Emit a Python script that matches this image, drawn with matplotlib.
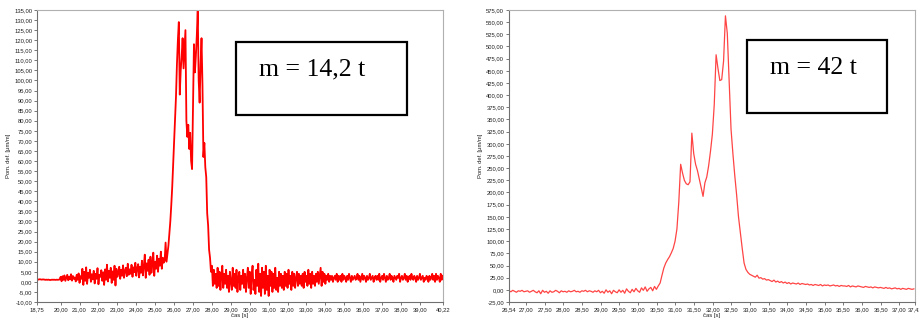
import numpy as np
import matplotlib
matplotlib.use("Agg")
import matplotlib.pyplot as plt
from matplotlib.patches import Rectangle

plt.rcParams['font.family'] = ['Liberation Sans', 'DejaVu Sans']

# ---------------- Left chart data (m = 14,2 t) ----------------
left_t_start = 18.75
left_t_step = 0.05
left_values = [
    1.2, 1.1, 1.2, 1.3, 1.2, 1.1, 1.2, 1.2, 1.1, 1.0, 1.1, 1.0, 1.1, 1.0, 0.9, 1.0, 1.1, 1.0, 1.1, 1.0,
    1.0, 1.1, 1.0, 1.1, 1.2, 2.5, 0.3, 2.8, 1.0, 3.2, 0.5, 2.0, 3.5, 0.8, 2.6, 1.2, 3.8, 0.6, 2.9, 1.5,
    2.2, 0.2, 3.5, 1.0, 4.2, -0.5, 2.8, 1.5, 6.5, -1.5, 5.0, 0.5, 7.2, -1.0, 4.5, 2.0, 6.0, 0.0, 3.8, 1.2,
    5.5, -0.8, 4.0, 1.5, 6.8, -1.2, 3.5, 2.5, 5.8, 0.5, 4.8, -1.5, 6.2, 1.0, 8.5, 0.2, 5.5, 2.0, 7.0, -0.5,
    5.2, 1.0, 8.0, -1.8, 6.5, 2.5, 4.2, 7.5, 1.5, 6.0, 3.0, 8.2, 2.0, 5.5, 7.0, 2.8, 9.0, 3.5, 6.2, 4.0,
    8.5, 2.5, 7.2, 4.8, 9.5, 3.0, 6.8, 8.8, 2.2, 7.5, 4.5, 10.5, 3.2, 8.0, 13.5, 2.0, 9.2, 5.5, 11.0, 3.5,
    12.5, 4.5, 8.5, 14.5, 3.0, 10.0, 6.5, 13.0, 5.0, 11.5, 8.0, 15.0, 6.5, 12.0, 9.5, 10.5, 19.5, 10.0, 14.0, 18.0,
    24, 30, 38, 47, 58, 68, 80, 92, 108, 120, 129, 93, 105, 112, 121, 106, 116, 125, 80, 72,
    78, 66, 74, 60, 56, 88, 118, 104, 112, 122, 135, 100, 89, 108, 121, 98, 62, 69, 57, 52,
    34, 28, 16, 12, 5, 8, -2, 6, -1, 4, -3, 7, -2, 5, -4, 3, 8, -3, 4, -1,
    6, -3, 3, -5, 5, 0, -4, 7, -2, 4, -3, 6, -5, 2, 5, -4, 3, -1, 6, -3,
    4, -5, 2, 7, -3, 5, -6, 3, 8, -4, 1, -6, 6, -2, 9, -5, 4, -7, 7, -3,
    5, -6, 8, -4, 3, -7, 6, -2, 5, -5, 4, -3, 7, -4, 2, -5, 5, -2, 4, -3,
    3, -4, 5, -2, 4, -3, 6, -1, 3, -4, 5, -2, 4, -3, 2, 5, -2, 4, -1, 3,
    -2, 4, -3, 5, 0, 3, -2, 6, -1, 4, -3, 5, -1, 3, -2, 4, 0, 5, -1, 3,
    7, -2, 5, 0, 4, -1, 3, 1, 4, 0, 3, 1, 3, 0, 2, 3, 1, 4, 0, 3,
    1, 3, 0, 4, 1, 3, 2, 0, 3, 1, 4, 2, 0, 3, 1, 2, 3, 1, 2, 4,
    1, 3, 0, 2, 4, 1, 3, 2, 0, 3, 1, 2, 4, 1, 2, 3, 0, 2, 3, 1,
    3, 1, 4, 0, 2, 3, 1, 4, 2, 0, 3, 1, 2, 4, 1, 3, 2, 0, 3, 2,
    1, 3, 2, 4, 0, 2, 3, 1, 2, 4, 1, 3, 0, 2, 3, 1, 4, 2, 1, 3,
    2, 0, 3, 1, 2, 4, 1, 2, 3, 0, 2, 1, 3, 2, 0, 3, 1, 2, 4, 1,
    3, 0, 4, 1, 3, 2, 0, 4, 1, 3,
]
left_xlim = (18.75, 40.22)
left_ylim = (-10, 135)
left_xticks = [18.75] + list(range(20, 40)) + [40.22]
left_yticks = list(range(-10, 136, 5))
left_label = "m = 14,2 t"

# ---------------- Right chart data (m = 42 t) ----------------
right_t_start = 26.54
right_t_step = 0.05
right_values = [
    -2, -4, -1, -3, -5, -2, -3, -1, -4, -3, -2, -5, -3, -1, -4, -6, -2, -8, -1, -5,
    -3, -7, -2, -5, -4, -1, -3, -6, -2, -4, -3, -5, -2, -4, -3, -1, -4, -3, -5, -2,
    -3, -1, -4, -2, -3, -5, -2, -4, -1, -6, -3, -7, 0, -5, -2, -8, -1, -4, -6, 0,
    -5, -1, -7, 2, -3, -6, 1, -4, 3, -2, -5, 4, -1, 6, -3, 2, 5, -2, 7, 1,
    8, 14, 30, 45, 55, 62, 68, 76, 85, 100, 125, 180, 258, 240, 225, 218, 216, 222, 322, 280,
    258, 245, 228, 210, 192, 220, 232, 255, 285, 320, 380, 483, 455, 430, 432, 470, 563, 527, 430, 330,
    280, 235, 195, 150, 117, 85, 55, 42, 36, 32, 30, 28, 26, 30, 24, 25, 22, 23, 20, 21,
    19, 17, 20, 16, 18, 15, 17, 14, 16, 13, 15, 12, 14, 13, 12, 14, 11, 13, 12, 11,
    12, 10, 11, 9, 11, 10, 9, 11, 8, 10, 9, 10, 8, 9, 10, 8, 9, 7, 9, 8,
    8, 7, 9, 6, 8, 7, 6, 8, 7, 6, 5, 7, 6, 5, 6, 4, 6, 5, 4, 5,
    4, 3, 5, 3, 4, 2, 3, 4, 2, 3, 1, 3, 2, 1, 3, 2, 1, 2,
]
right_xlim = (26.54, 37.42)
right_ylim = (-25, 575)
right_xticks = [26.54] + [27 + 0.5 * k for k in range(21)] + [37.42]
right_yticks = list(range(-25, 576, 25))
right_label = "m = 42 t"

ylabel_text = "Pom. def. [µm/m]"
xlabel_text = "čas [s]"


def fmt(v):
    return f"{v:.2f}".replace('.', ',')


fig = plt.figure(figsize=(9.2, 3.2), dpi=100)
fig.patch.set_facecolor('white')

ax_w = 406 / 920
ax_h = 292 / 320
ax_b = 18 / 320
axL = fig.add_axes([37 / 920, ax_b, ax_w, ax_h])
axR = fig.add_axes([509 / 920, ax_b, ax_w, ax_h])


def style(ax, xlim, ylim, xticks, yticks):
    ax.set_xlim(*xlim)
    ax.set_ylim(*ylim)
    ax.set_xticks(xticks)
    ax.set_xticklabels([fmt(v) for v in xticks])
    ax.set_yticks(yticks)
    ax.set_yticklabels([fmt(v) for v in yticks])
    ax.tick_params(axis='both', labelsize=4.2, length=2.5, width=0.6,
                   color='#606060', labelcolor='#202020', pad=1)
    for side in ['left', 'bottom']:
        ax.spines[side].set_color('#707070')
        ax.spines[side].set_linewidth(0.8)
    for side in ['top', 'right']:
        ax.spines[side].set_color('#b0b0b0')
        ax.spines[side].set_linewidth(0.8)
    ax.set_ylabel(ylabel_text, fontsize=4.2, color='#202020', labelpad=2)
    ax.set_xlabel(xlabel_text, fontsize=4.2, color='#202020', labelpad=1)


tL = left_t_start + left_t_step * np.arange(len(left_values))
axL.plot(tL, left_values, color='#ff0000', lw=1.3)
style(axL, left_xlim, left_ylim, left_xticks, left_yticks)

tR = right_t_start + right_t_step * np.arange(len(right_values))
axR.plot(tR, right_values, color='#ff3030', lw=0.9, alpha=0.9)
style(axR, right_xlim, right_ylim, right_xticks, right_yticks)

# annotation boxes
axL.add_patch(Rectangle((0.49, 0.64), 0.421, 0.25, transform=axL.transAxes,
                        fill=False, edgecolor='black', lw=1.6, zorder=5))
axL.text(0.677, 0.795, left_label, transform=axL.transAxes, ha='center', va='center',
         fontsize=18.5, family='Liberation Serif', color='black', zorder=6)

axR.add_patch(Rectangle((0.586, 0.647), 0.345, 0.25, transform=axR.transAxes,
                        fill=False, edgecolor='black', lw=1.6, zorder=5))
axR.text(0.749, 0.801, right_label, transform=axR.transAxes, ha='center', va='center',
         fontsize=18.5, family='Liberation Serif', color='black', zorder=6)

fig.savefig('out.png', dpi=100, facecolor='white')
